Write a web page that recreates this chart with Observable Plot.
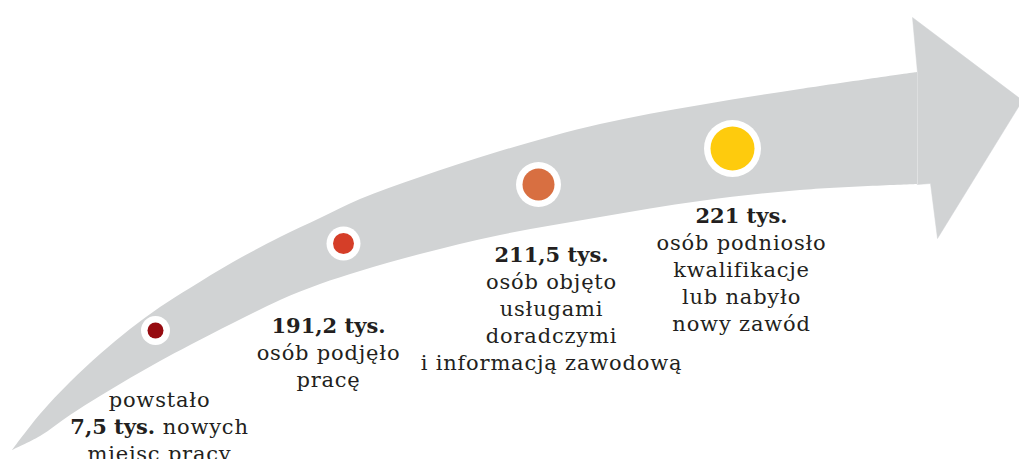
<!DOCTYPE html>
<html>
<head>
<meta charset="utf-8">
<script src="https://cdn.jsdelivr.net/npm/d3@7"></script>
<script src="https://cdn.jsdelivr.net/npm/@observablehq/plot@0.6"></script>
<style>
  html, body { margin: 0; padding: 0; background: #fff; }
  #chart svg { display: block; }
</style>
</head>
<body>
<div id="chart"></div>
<script>
// Arrow shaft outline (drawing coordinates)
const shaftX     = [12, 40, 70, 100, 130, 160, 190, 233, 280, 320, 360, 420, 500, 600, 700, 800, 917];
const shaftUpper = [450, 414, 382, 354, 329, 307, 288, 262, 237, 218, 199, 177, 151, 124, 105, 89, 72];
const shaftLower = [450, 436, 415, 396, 378, 361, 345, 323, 300, 284, 271, 254, 235, 217, 201, 190, 184];
// Arrow head outline
const headX = [917, 912, 1022, 937, 930, 917];
const headY = [72, 17, 100, 238, 183, 184];

// Milestones
const values = ["7,5 tys.", "191,2 tys.", "211,5 tys.", "221 tys."];
const descriptions = [
  "powstało\n\nmiejsc pracy",
  "osób podjęło\npracę",
  "osób objęto\nusługami\ndoradczymi\ni informacją zawodową",
  "osób podniosło\nkwalifikacje\nlub nabyło\nnowy zawód"
];
const inlineSuffix = " nowych";
const dotX = [155, 343, 538, 732];
const dotY = [330, 243, 184, 148];
const dotR = [8, 10.5, 16, 22];
const dotColors = ["#960b10", "#d53e28", "#d86f41", "#fecb0d"];
const labelX = [159, 328, 551, 741];
const labelBaseline = [402, 328, 257, 218];

const FS = 21, LH = 27, FONT = "DejaVu Serif", LS = 0.8;
const ink = "#231f20", grey = "#d1d3d4";

const shaft = shaftX.map((x, i) => ({x, y1: shaftUpper[i], y2: shaftLower[i]}));
const head = headX.map((x, i) => ({x, y: headY[i]}));
const dots = dotX.map((x, i) => ({x, y: dotY[i], r: dotR[i], ring: dotR[i] + 6.5, c: dotColors[i]}));
const labels = values.map((v, i) => ({
  x: labelX[i], top: labelBaseline[i] - 0.71 * FS, value: v, desc: descriptions[i]
}));

// measure the mixed bold/regular line of label 1
const ctx = document.createElement("canvas").getContext("2d");
ctx.font = `bold ${FS}px "${FONT}"`;
const wb = ctx.measureText(values[0]).width;
ctx.font = `${FS}px "${FONT}"`;
const wr = ctx.measureText(inlineSuffix).width + LS * inlineSuffix.length;
const split = labelX[0] - (wb + wr) / 2 + wb;
const inline = [{x: split, top: labels[0].top + LH, value: values[0], suffix: inlineSuffix}];

const common = {fontFamily: FONT, fontSize: FS, fill: ink, lineAnchor: "top", lineHeight: LH / FS};

const chart = Plot.plot({
  width: 1019, height: 459,
  margin: 0,
  x: {domain: [0, 1019], range: [0, 1019], axis: null},
  y: {domain: [0, 459], range: [0, 459], axis: null},
  r: {type: "identity"},
  color: {type: "identity"},
  style: {background: "#fff"},
  marks: [
    Plot.areaY(shaft, {x: "x", y1: "y1", y2: "y2", fill: grey, curve: "catmull-rom"}),
    Plot.line(head, {x: "x", y: "y", fill: grey, stroke: grey, strokeWidth: 0.5, curve: "linear-closed"}),
    Plot.dot(dots, {x: "x", y: "y", r: "ring", fill: "#fff", stroke: "none"}),
    Plot.dot(dots, {x: "x", y: "y", r: "r", fill: "c", stroke: "none"}),
    // bold value lines (labels 2-4)
    Plot.text(labels.slice(1), {x: "x", y: "top", text: "value", fontWeight: "bold", ...common}),
    // descriptions
    Plot.text(labels.slice(1), {x: "x", y: "top", text: d => "\n" + d.desc, ...common}),
    Plot.text(labels.slice(0, 1), {x: "x", y: "top", text: "desc", ...common}),
    // label 1 inline bold + regular
    Plot.text(inline, {x: "x", y: "top", text: "value", fontWeight: "bold", textAnchor: "end", ...common}),
    Plot.text(inline, {x: "x", y: "top", text: "suffix", textAnchor: "start", ...common})
  ]
});
// keep the leading space of the inline suffix; widen regular text slightly
chart.querySelectorAll("text").forEach(t => t.setAttribute("xml:space", "preserve"));
chart.querySelectorAll('g[aria-label="text"]').forEach(g => {
  if (g.getAttribute("font-weight") !== "bold") g.setAttribute("letter-spacing", LS);
});
document.getElementById("chart").appendChild(chart);
</script>
</body>
</html>
